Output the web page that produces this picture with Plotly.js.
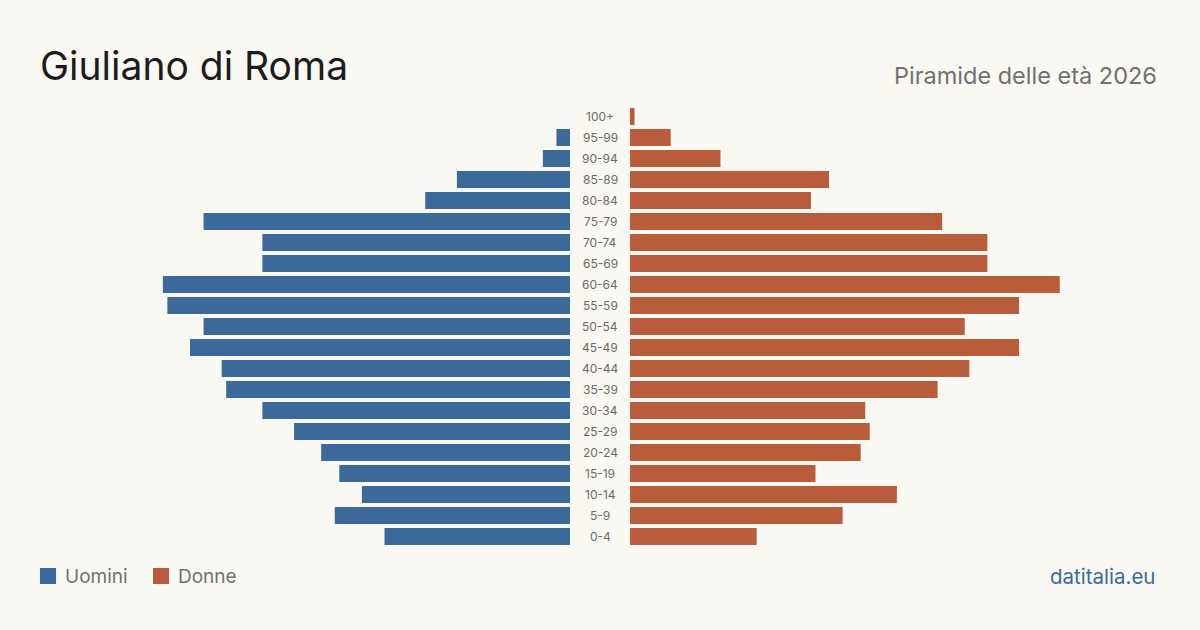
<!DOCTYPE html>
<html>
<head>
<meta charset="utf-8">
<script src="https://cdn.plot.ly/plotly-3.0.1.min.js"></script>
<style>html,body{margin:0;padding:0;background:#f9f8f3;}#chart{width:1200px;height:630px;}</style>
</head>
<body>
<div id="chart"></div>
<script>
// Age classes (bottom first for Plotly categorical axis)
const ageGroups = ["0-4","5-9","10-14","15-19","20-24","25-29","30-34","35-39","40-44","45-49","50-54","55-59","60-64","65-69","70-74","75-79","80-84","85-89","90-94","95-99","100+"];
const men   = [41,52,46,51,55,61,68,76,77,84,81,89,90,68,68,81,32,25,6,3,0];
const women = [28,47,59,41,51,53,52,68,75,86,74,86,95,79,79,69,40,44,20,9,1];
const seriesNames = ["Uomini","Donne"];
const title = "Giuliano di Roma";
const subtitle = "Piramide delle età 2026";
const source = "datitalia.eu";

const W = 1200, H = 630, T = 106, B = 83;
const plotH = H - T - B;
const py = px => (H - B - px) / plotH;   // pixel y -> paper y
const pxX = px => px / W;

const blue = "#3b6a9a", orange = "#b95c3c";
const font = "Inter, 'Noto Sans', sans-serif";
const maxV = 126;

const traces = [
  {type:"bar", orientation:"h", name:seriesNames[0], y:ageGroups, x:men, xaxis:"x", yaxis:"y",
   marker:{color:blue}, hoverinfo:"x+y", showlegend:false},
  {type:"bar", orientation:"h", name:seriesNames[1], y:ageGroups, x:women, xaxis:"x2", yaxis:"y",
   marker:{color:orange}, hoverinfo:"x+y", showlegend:false}
];

const annotations = ageGroups.map(a => ({
  text:a, x:0.5, xref:"paper", y:a, yref:"y", showarrow:false,
  xanchor:"center", yanchor:"middle", font:{family:font, size:12, color:"#6b6b6b"}
}));
annotations.push({text:subtitle, x:pxX(1159), xref:"paper", xanchor:"right", y:py(76), yref:"paper", yanchor:"middle",
  showarrow:false, font:{family:font, size:23.5, color:"#707070"}});
annotations.push({text:seriesNames[0], x:pxX(63), xref:"paper", xanchor:"left", y:py(576), yref:"paper", yanchor:"middle",
  showarrow:false, font:{family:font, size:19, color:"#707070"}});
annotations.push({text:seriesNames[1], x:pxX(176), xref:"paper", xanchor:"left", y:py(576), yref:"paper", yanchor:"middle",
  showarrow:false, font:{family:font, size:19, color:"#707070"}});
annotations.push({text:source, x:pxX(1157), xref:"paper", xanchor:"right", y:py(576), yref:"paper", yanchor:"middle",
  showarrow:false, font:{family:font, size:20.5, color:blue}});

const shapes = [
  {type:"rect", xref:"paper", yref:"paper", x0:pxX(40), x1:pxX(56), y0:py(584), y1:py(568), fillcolor:blue, line:{width:0}},
  {type:"rect", xref:"paper", yref:"paper", x0:pxX(153), x1:pxX(169), y0:py(584), y1:py(568), fillcolor:orange, line:{width:0}}
];

const layout = {
  width:W, height:H,
  paper_bgcolor:"#f9f8f3", plot_bgcolor:"#f9f8f3",
  margin:{l:0, r:0, t:T, b:B, pad:0},
  title:{text:title, x:pxX(40), xanchor:"left", xref:"paper", y:1-66/H, yanchor:"middle",
    font:{family:font, size:39, color:"#1c1c1c"}},
  bargap:0.19,
  xaxis:{domain:[0, 570/W], range:[maxV, 0], visible:false, fixedrange:true},
  xaxis2:{domain:[630/W, 1], range:[0, maxV], visible:false, fixedrange:true, anchor:"y"},
  yaxis:{type:"category", categoryorder:"array", categoryarray:ageGroups, range:[-0.5, ageGroups.length-0.5],
    visible:false, fixedrange:true},
  annotations:annotations,
  shapes:shapes,
  showlegend:false
};

Plotly.newPlot("chart", traces, layout, {displayModeBar:false, staticPlot:true});
</script>
</body>
</html>
